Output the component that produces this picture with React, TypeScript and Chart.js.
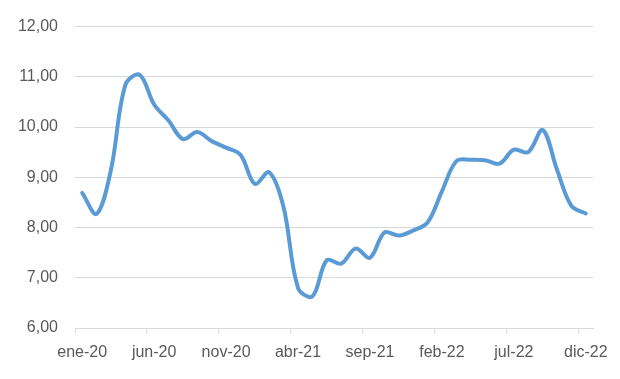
import React, { useEffect, useRef } from "react";
import { Chart, registerables } from "chart.js";

Chart.register(...registerables);

const monthNames = ["ene", "feb", "mar", "abr", "may", "jun", "jul", "ago", "sep", "oct", "nov", "dic"];
const years = ["20", "21", "22"];
const categories: string[] = years.flatMap((y) => monthNames.map((m) => `${m}-${y}`));

const seriesValues: number[] = [
  8.69, 8.27, 9.15, 10.84, 11.04, 10.45, 10.13, 9.76, 9.9, 9.72, 9.59, 9.45,
  8.87, 9.1, 8.4, 6.8, 6.63, 7.35, 7.28, 7.58, 7.4, 7.9, 7.84, 7.94,
  8.1, 8.72, 9.32, 9.35, 9.34, 9.27, 9.55, 9.5, 9.94, 9.15, 8.43, 8.28,
];

const yMin = 6;
const yMax = 12;
const yStep = 1;
const labelEvery = 5;

const FONT = "'Liberation Sans', Arial, sans-serif";
const TEXT = "#595959";
const GRID = "#d9d9d9";

export default function App() {
  const ref = useRef<HTMLCanvasElement | null>(null);

  useEffect(() => {
    document.body.style.margin = "0";
    const canvas = ref.current;
    if (!canvas) return;
    const chart = new Chart(canvas, {
      type: "line",
      data: {
        labels: categories,
        datasets: [
          {
            data: seriesValues,
            borderColor: "#5b9bd5",
            borderWidth: 4,
            pointRadius: 0,
            tension: 0.35,
            fill: false,
            borderCapStyle: "round",
            borderJoinStyle: "round",
          },
        ],
      },
      options: {
        animation: false,
        responsive: false,
        maintainAspectRatio: false,
        layout: { padding: { top: 24, right: 27, left: 0, bottom: 0 } },
        plugins: { legend: { display: false }, tooltip: { enabled: false } },
        scales: {
          x: {
            type: "category",
            offset: true,
            grid: {
              offset: true,
              drawOnChartArea: false,
              drawTicks: true,
              tickLength: 5,
              color: (ctx: any) => (ctx.index % labelEvery === 0 ? GRID : "rgba(0,0,0,0)"),
            },
            border: { display: true, color: GRID },
            ticks: {
              autoSkip: false,
              maxRotation: 0,
              minRotation: 0,
              padding: 10,
              color: TEXT,
              font: { family: FONT, size: 16 },
              callback: (_v: any, i: number) => (i % labelEvery === 0 ? categories[i] : ""),
            },
            afterFit: (scale: any) => {
              scale.height = 51;
            },
          },
          y: {
            min: yMin,
            max: yMax,
            grid: { color: GRID, drawTicks: false, lineWidth: 1 },
            border: { display: false },
            ticks: {
              stepSize: yStep,
              padding: 17,
              color: TEXT,
              font: { family: FONT, size: 16 },
              callback: (v: any) => Number(v).toFixed(2).replace(".", ","),
            },
            afterFit: (scale: any) => {
              scale.width = 75;
            },
          },
        },
      },
    });
    return () => chart.destroy();
  }, []);

  return (
    <div style={{ position: "absolute", left: 0, top: 0, width: 620, height: 379, background: "#fff" }}>
      <canvas ref={ref} width={620} height={379} style={{ width: 620, height: 379 }} />
    </div>
  );
}
